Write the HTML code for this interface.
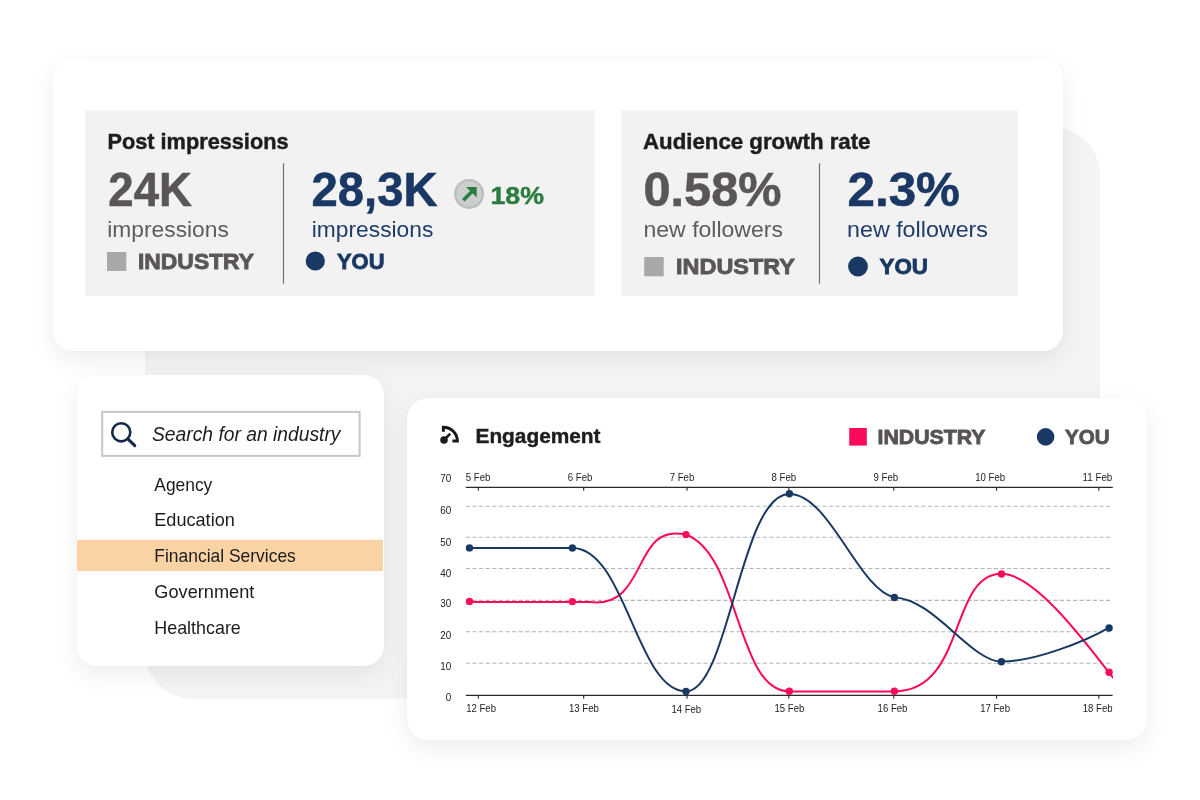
<!DOCTYPE html>
<html lang="en">
<head>
<meta charset="utf-8">
<title>Industry benchmarks</title>
<style>
html,body{margin:0;padding:0;}
body{width:1200px;height:800px;background:#fff;position:relative;overflow:hidden;font-family:"Liberation Sans",sans-serif;}
.abs{position:absolute;}
#blob{left:145px;top:127px;width:955px;height:572px;background:#f3f4f6;border-radius:0 48px 0 48px;}
.card{background:#fff;border-radius:20px;box-shadow:0 8px 24px rgba(10,12,18,0.075),0 0 2px rgba(10,12,18,0.025);}
#c1{left:53px;top:59px;width:1009.5px;height:292px;}
#c2{left:77px;top:375px;width:307px;height:291px;}
#c3{left:407px;top:398px;width:740px;height:341.5px;border-radius:21px;}
svg{position:absolute;left:0;top:0;}
text{font-family:"Liberation Sans",sans-serif;}
.b{font-weight:700;}
.i{font-style:italic;}
</style>
</head>
<body>
<div id="blob" class="abs"></div>
<div id="c1" class="abs card"></div>
<div id="c2" class="abs card"></div>
<div id="c3" class="abs card"></div>
<svg width="1200" height="800" viewBox="0 0 1200 800">
<rect x="85" y="110.5" width="509.7" height="185.5" fill="#f2f2f2"/>
<rect x="621.3" y="110.5" width="396.7" height="185.5" fill="#f2f2f2"/>
<rect x="77" y="539.7" width="306" height="31.4" fill="#f9d3a3"/>
<!-- stat box 1 -->
<g id="stats">
<text class="b" x="107.5" y="148.8" font-size="21.5" fill="#1e1e20" textLength="181" lengthAdjust="spacingAndGlyphs" stroke="#1e1e20" stroke-width="0.45">Post impressions</text>
<text class="b" x="108.3" y="206.4" font-size="48.2" fill="#5a5657" textLength="83.6" lengthAdjust="spacingAndGlyphs" stroke="#5a5657" stroke-width="0.6">24K</text>
<text x="107.3" y="237.2" font-size="22" fill="#5e5c5d" textLength="121.5" lengthAdjust="spacingAndGlyphs">impressions</text>
<rect x="107" y="252" width="19.3" height="19" fill="#a9a8a8"/>
<text class="b" x="138" y="269.1" font-size="22.5" fill="#5a5657" textLength="116" lengthAdjust="spacingAndGlyphs" stroke="#5a5657" stroke-width="0.85">INDUSTRY</text>
<rect x="282.9" y="163.2" width="1.2" height="120.5" fill="#737172"/>
<text class="b" x="311.5" y="206.4" font-size="48.2" fill="#1a3864" textLength="126" lengthAdjust="spacingAndGlyphs" stroke="#1a3864" stroke-width="0.6">28,3K</text>
<text x="311.8" y="237.2" font-size="22" fill="#1f3d69" textLength="121.5" lengthAdjust="spacingAndGlyphs">impressions</text>
<circle cx="315.3" cy="261" r="9.6" fill="#1a3864"/>
<text class="b" x="337" y="269.1" font-size="22.5" fill="#1a3864" textLength="47.5" lengthAdjust="spacingAndGlyphs" stroke="#1a3864" stroke-width="0.85">YOU</text>
<circle cx="469.1" cy="193.95" r="15" fill="#bcbfbe"/>
<circle cx="469.1" cy="193.95" r="12.6" fill="#cdcfce"/>
<path d="M463.3 200.3 L472.5 191.1" fill="none" stroke="#2c7c3f" stroke-width="3.6"/>
<path d="M466 186.9 H476.7 V197.2 Z" fill="#2c7c3f"/>
<text class="b" x="490.5" y="204" font-size="23.5" fill="#2c7c3f" textLength="53.5" lengthAdjust="spacingAndGlyphs" stroke="#2c7c3f" stroke-width="0.45">18%</text>
<!-- stat box 2 -->
<text class="b" x="643" y="148.8" font-size="21.5" fill="#1e1e20" textLength="227.5" lengthAdjust="spacingAndGlyphs" stroke="#1e1e20" stroke-width="0.45">Audience growth rate</text>
<text class="b" x="643.5" y="206.4" font-size="48.2" fill="#5a5657" textLength="138" lengthAdjust="spacingAndGlyphs" stroke="#5a5657" stroke-width="0.6">0.58%</text>
<text x="643.5" y="237.1" font-size="22.6" fill="#5e5c5d" textLength="139.5" lengthAdjust="spacingAndGlyphs">new followers</text>
<rect x="644.2" y="257" width="19.5" height="19.3" fill="#a9a8a8"/>
<text class="b" x="676" y="274.1" font-size="22.5" fill="#5a5657" textLength="119" lengthAdjust="spacingAndGlyphs" stroke="#5a5657" stroke-width="0.85">INDUSTRY</text>
<rect x="818.9" y="163.2" width="1.2" height="120.5" fill="#737172"/>
<text class="b" x="847.6" y="206.4" font-size="48.2" fill="#1a3864" textLength="112.3" lengthAdjust="spacingAndGlyphs" stroke="#1a3864" stroke-width="0.6">2.3%</text>
<text x="847" y="237.1" font-size="22.6" fill="#1f3d69" textLength="141" lengthAdjust="spacingAndGlyphs">new followers</text>
<circle cx="858" cy="266.5" r="9.9" fill="#1a3864"/>
<text class="b" x="879.5" y="274.1" font-size="22.5" fill="#1a3864" textLength="48.5" lengthAdjust="spacingAndGlyphs" stroke="#1a3864" stroke-width="0.85">YOU</text>
</g>
<!-- search card -->
<g id="search">
<rect x="102.2" y="411.9" width="257.4" height="44" fill="#fff" stroke="#c4c7ca" stroke-width="2"/>
<circle cx="121.25" cy="432.3" r="9.05" fill="none" stroke="#14284a" stroke-width="2.6"/>
<path d="M127.8 438.9 L134.8 445.7" stroke="#14284a" stroke-width="3" stroke-linecap="round"/>
<text class="i" x="152" y="440.6" font-size="19.5" fill="#1c1c1e" textLength="188.5" lengthAdjust="spacingAndGlyphs">Search for an industry</text>
<text x="154.3" y="490.6" font-size="18.2" fill="#1c1c1e" textLength="58" lengthAdjust="spacingAndGlyphs">Agency</text>
<text x="154.3" y="526.4" font-size="18.2" fill="#1c1c1e" textLength="80.5" lengthAdjust="spacingAndGlyphs">Education</text>
<text x="154.3" y="562" font-size="18.2" fill="#1c1c1e" textLength="141.5" lengthAdjust="spacingAndGlyphs">Financial Services</text>
<text x="154.3" y="597.9" font-size="18.2" fill="#1c1c1e" textLength="100" lengthAdjust="spacingAndGlyphs">Government</text>
<text x="154.3" y="633.8" font-size="18.2" fill="#1c1c1e" textLength="86.5" lengthAdjust="spacingAndGlyphs">Healthcare</text>
</g>
<!-- engagement card -->
<g id="eng">
<path d="M443.4 431.8 V427.25 A14 14 0 0 1 457.4 441.1 H452.4" fill="none" stroke="#1a1a1c" stroke-width="3" stroke-linejoin="miter"/>
<circle cx="444" cy="440" r="3.8" fill="#1a1a1c"/>
<path d="M444 440 L450.3 433.7" stroke="#1a1a1c" stroke-width="2.6"/>
<text class="b" x="475.5" y="443" font-size="21" fill="#1e1e20" textLength="125" lengthAdjust="spacingAndGlyphs" stroke="#1e1e20" stroke-width="0.45">Engagement</text>
<rect x="849.2" y="428" width="17.6" height="17.6" fill="#f90b5b"/>
<text class="b" x="877.5" y="444.1" font-size="20.9" fill="#575354" textLength="108" lengthAdjust="spacingAndGlyphs" stroke="#575354" stroke-width="0.85">INDUSTRY</text>
<circle cx="1045.6" cy="436.9" r="8.8" fill="#1a3864"/>
<text class="b" x="1065" y="443.9" font-size="20.9" fill="#575354" textLength="44.6" lengthAdjust="spacingAndGlyphs" stroke="#575354" stroke-width="0.85">YOU</text>
</g>
<g id="chart">
<g stroke="#b3b6b8" stroke-width="1.1" stroke-dasharray="4.2 2.4" fill="none">
<path d="M465.8 506.3H1112.6M465.8 537.3H1112.6M465.8 568.5H1112.6M465.8 600.4H1112.6M465.8 631.8H1112.6M465.8 663.2H1112.6"/>
</g>
<g stroke="#2a2a2c" stroke-width="1.1" fill="none">
<path d="M465.8 487.4H1112.8M478.3 487.4V490.8M583.7 487.4V490.8M687 487.4V490.8M788.8 487.4V490.8M893.8 487.4V490.8M996.6 487.4V490.8M1098.8 487.4V490.8"/>
<path d="M465.8 695.4H1112.6M478.3 695.4V698.8M583.7 695.4V698.8M687 695.4V698.8M788.8 695.4V698.8M893.8 695.4V698.8M996.6 695.4V698.8M1098.8 695.4V698.8"/>
</g>
<g font-size="10.1" fill="#222224">
<text font-size="10" x="440.3" y="481.5" textLength="11" lengthAdjust="spacingAndGlyphs">70</text>
<text font-size="10" x="440.3" y="514.2" textLength="11" lengthAdjust="spacingAndGlyphs">60</text>
<text font-size="10" x="440.3" y="545.5" textLength="11" lengthAdjust="spacingAndGlyphs">50</text>
<text font-size="10" x="440.3" y="576.7" textLength="11" lengthAdjust="spacingAndGlyphs">40</text>
<text font-size="10" x="440.3" y="607.2" textLength="11" lengthAdjust="spacingAndGlyphs">30</text>
<text font-size="10" x="440.3" y="638.6" textLength="11" lengthAdjust="spacingAndGlyphs">20</text>
<text font-size="10" x="440.3" y="669.8" textLength="11" lengthAdjust="spacingAndGlyphs">10</text>
<text font-size="10" x="445.8" y="700.7" textLength="5.5" lengthAdjust="spacingAndGlyphs">0</text>
<text x="465.8" y="480.8" textLength="24.6" lengthAdjust="spacingAndGlyphs">5 Feb</text>
<text x="567.8" y="480.8" textLength="24.6" lengthAdjust="spacingAndGlyphs">6 Feb</text>
<text x="669.8" y="480.8" textLength="24.4" lengthAdjust="spacingAndGlyphs">7 Feb</text>
<text x="771.5" y="480.8" textLength="24.6" lengthAdjust="spacingAndGlyphs">8 Feb</text>
<text x="873.5" y="480.8" textLength="24.6" lengthAdjust="spacingAndGlyphs">9 Feb</text>
<text x="975.3" y="480.8" textLength="29.8" lengthAdjust="spacingAndGlyphs">10 Feb</text>
<text x="1082.5" y="480.8" textLength="29.8" lengthAdjust="spacingAndGlyphs">11 Feb</text>
<text x="466.2" y="712" textLength="29.8" lengthAdjust="spacingAndGlyphs">12 Feb</text>
<text x="569" y="712" textLength="29.8" lengthAdjust="spacingAndGlyphs">13 Feb</text>
<text x="671.4" y="713.3" textLength="29.8" lengthAdjust="spacingAndGlyphs">14 Feb</text>
<text x="774.5" y="712" textLength="29.8" lengthAdjust="spacingAndGlyphs">15 Feb</text>
<text x="877.6" y="712" textLength="29.8" lengthAdjust="spacingAndGlyphs">16 Feb</text>
<text x="980.2" y="712" textLength="29.8" lengthAdjust="spacingAndGlyphs">17 Feb</text>
<text x="1082.8" y="712" textLength="29.8" lengthAdjust="spacingAndGlyphs">18 Feb</text>
</g>
<clipPath id="cp"><rect x="460" y="485" width="653" height="215"/></clipPath>
<g clip-path="url(#cp)" fill="none" stroke-width="2">
<path stroke="#f90b5b" d="M469.5 601.9 H572.4 L590 602.1 C649.2 608.7 631.4 521.6 686 534.7 C739.6 553.6 736.3 691.4 789.4 691.4 H894.3 C966.2 691.4 949.1 573.8 1001.5 573.8 C1039.6 573.8 1100.6 664.1 1118 683.5"/>
<path stroke="#1a3864" d="M469.5 547.9 H572.4 C625.6 548.1 636.9 691.4 686 691.4 C728.9 691.4 740.3 494 789.4 494 C829.4 494 858.4 589.4 894.3 597.4 C933.4 598.5 971.3 661.6 1001.4 661.6 C1034.2 661.6 1084.7 641.7 1109.1 627.6"/>
</g>
<g fill="#f90b5b">
<circle cx="469.5" cy="601.4" r="3.7"/><circle cx="572.4" cy="601.6" r="3.7"/><circle cx="686" cy="534.6" r="3.7"/><circle cx="789.3" cy="691.3" r="3.7"/><circle cx="894.4" cy="691.3" r="3.7"/><circle cx="1001.5" cy="574" r="3.7"/><circle cx="1109.1" cy="672.3" r="3.7"/>
</g>
<g fill="#1a3864">
<circle cx="469.5" cy="547.9" r="3.7"/><circle cx="572.4" cy="548" r="3.7"/><circle cx="686" cy="691.4" r="3.7"/><circle cx="789.4" cy="493.8" r="3.7"/><circle cx="894.4" cy="597.5" r="3.7"/><circle cx="1001.4" cy="661.7" r="3.7"/><circle cx="1109.1" cy="628" r="3.7"/>
</g>
</g>
</svg>
</body>
</html>
